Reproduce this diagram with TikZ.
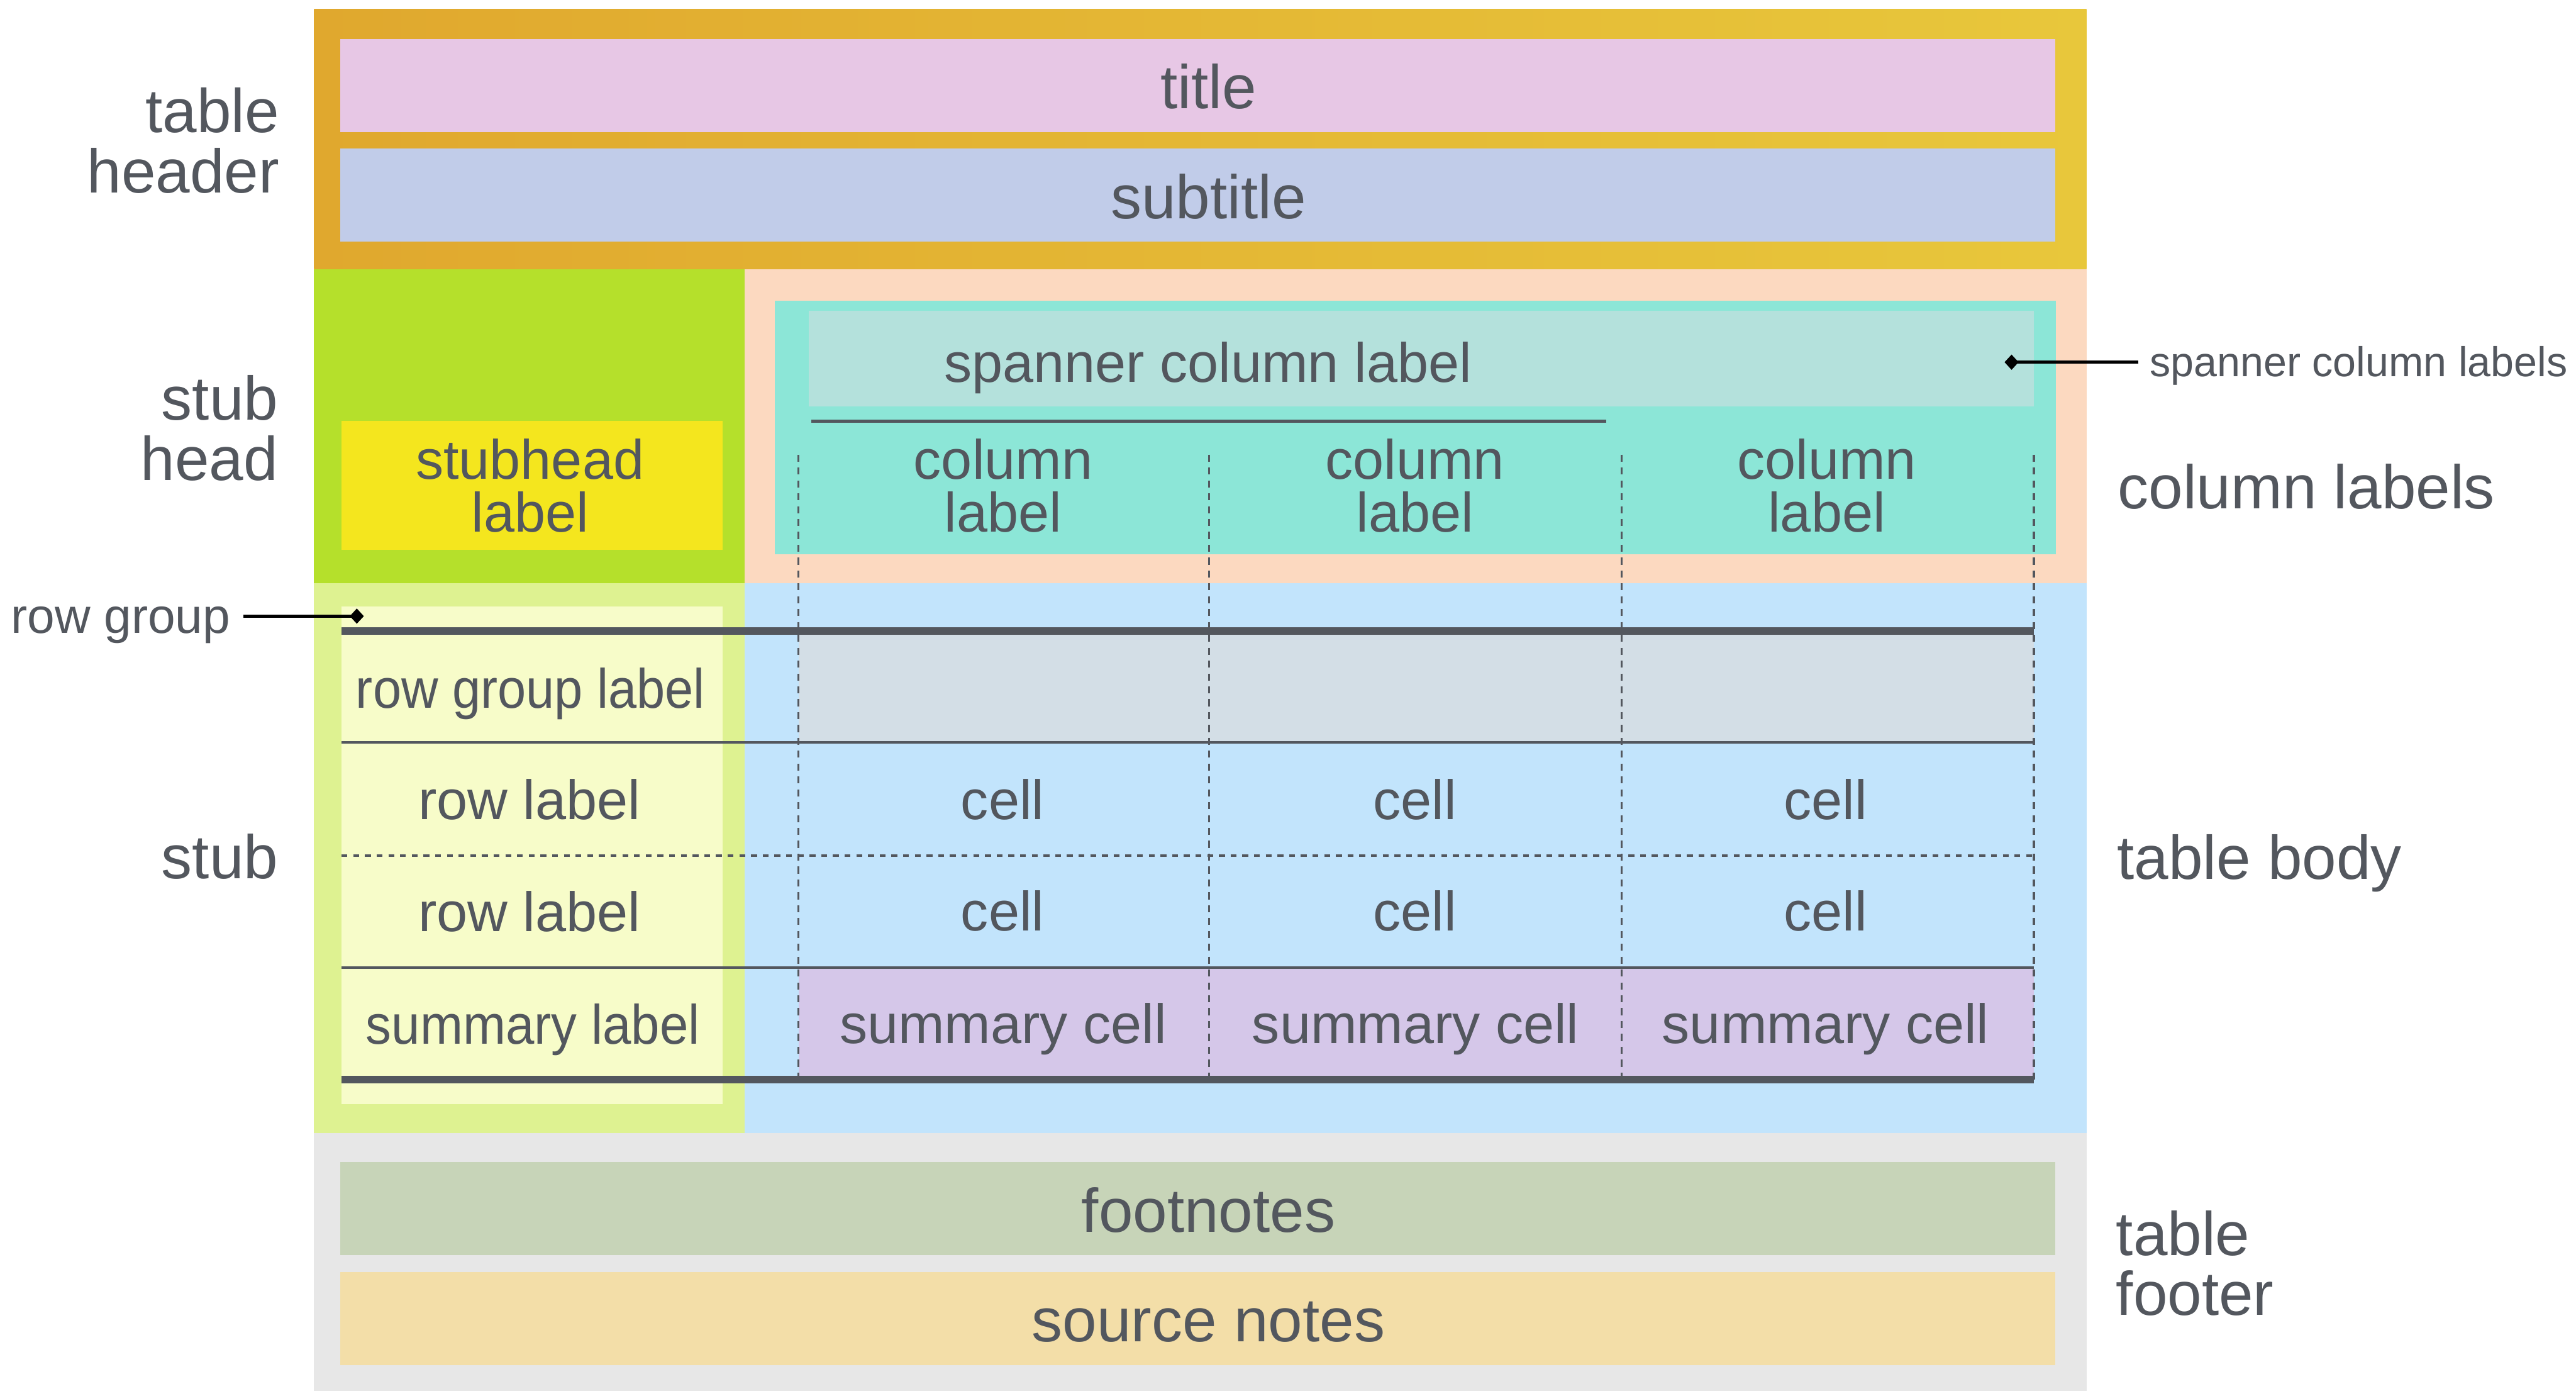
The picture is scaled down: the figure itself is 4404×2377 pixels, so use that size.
\documentclass[tikz,border=0pt]{standalone}
\usepackage{fontspec}
\setmainfont{Liberation Sans}
\usetikzlibrary{arrows.meta,calc}
\definecolor{ink}{HTML}{53575E}
\definecolor{hdrL}{HTML}{E0A82E}
\definecolor{hdrR}{HTML}{E8C73B}
\definecolor{titlec}{HTML}{E7C7E5}
\definecolor{subtitlec}{HTML}{C1CCE9}
\definecolor{stubheadc}{HTML}{B5E02B}
\definecolor{stubheadlab}{HTML}{F4E61E}
\definecolor{collabc}{HTML}{FCD9C0}
\definecolor{tealc}{HTML}{8CE6D7}
\definecolor{spannerc}{HTML}{B4E1DC}
\definecolor{stubc}{HTML}{DEF291}
\definecolor{stubinner}{HTML}{F7FCC9}
\definecolor{bodyc}{HTML}{C2E4FC}
\definecolor{rgband}{HTML}{D3DEE6}
\definecolor{summaryc}{HTML}{D5C7E9}
\definecolor{footerc}{HTML}{E7E7E7}
\definecolor{footnotec}{HTML}{C7D4B8}
\definecolor{sourcec}{HTML}{F3DEA8}
\begin{document}
\begin{tikzpicture}[x=0.1mm,y=-0.1mm,
  big/.style={font=\fontsize{30}{29.3}\selectfont, text=ink, inner sep=0pt},
  med/.style={font=\fontsize{27}{25.9}\selectfont, text=ink, inner sep=0pt},
  rgfont/.style={font=\fontsize{24}{24}\selectfont, text=ink, inner sep=0pt},
  spfont/.style={font=\fontsize{20.3}{20.3}\selectfont, text=ink, inner sep=0pt},
  rulethick/.style={draw=ink, line width=1.3mm},
  rulethin/.style={draw=ink, line width=0.45mm},
  ruledot/.style={draw=ink, line width=0.45mm, dash pattern=on 1mm off 1mm},
  vdash/.style={draw=ink, line width=0.35mm, dash pattern=on 1.2mm off 1mm},
  annot/.style={draw=black, line width=0.5mm, -{Diamond[length=2.4mm,width=2.6mm]}},
]
\useasboundingbox (0,0) rectangle (4404,2377);

% header
\shade[left color=hdrL, right color=hdrR] (537,16) rectangle (3567,460);
\fill[titlec] (582,67) rectangle (3514,226);
\fill[subtitlec] (582,254) rectangle (3514,413);

% stub head and column labels
\fill[stubheadc] (537,460) rectangle (1273,997);
\fill[stubheadlab] (584,719) rectangle (1235,940);
\fill[collabc] (1273,460) rectangle (3567,997);
\fill[tealc] (1325,514) rectangle (3515,947);
\fill[spannerc] (1383,531) rectangle (3477,695);
\draw[draw=ink, line width=0.5mm] (1387,720) -- (2746,720);

% body
\fill[stubc] (537,997) rectangle (1273,1936);
\fill[stubinner] (584,1037) rectangle (1235,1887);
\fill[bodyc] (1273,997) rectangle (3567,1936);
\fill[rgband] (1365,1078) rectangle (3477,1269);
\fill[summaryc] (1365,1654) rectangle (3477,1845);

% footer
\fill[footerc] (537,1936) rectangle (3567,2377);
\fill[footnotec] (582,1986) rectangle (3514,2145);
\fill[sourcec] (582,2174) rectangle (3514,2333);

% rules
\draw[rulethin] (584,1269) -- (3477,1269);
\draw[ruledot] (584,1462) -- (3477,1462);
\draw[rulethin] (584,1654) -- (3477,1654);
\foreach \xx in {1365,2067,2772,3477} {
  \draw[vdash] (\xx,777) -- (\xx,1845);
}
\draw[rulethick] (584,1078.5) -- (3477,1078.5);
\draw[rulethick] (584,1845) -- (3477,1845);

% side labels
\node[big, align=right, anchor=east] (lblheader) at (478,240) {table\\header};
\node[big, align=right, anchor=east] (lblstubhead) at (476,732) {stub\\head};
\node[big, anchor=base east] (lblstub) at (476,1502) {stub};
\node[big, anchor=base west] (lblcollabels) at (3620,869) {column labels};
\node[big, anchor=base west] (lblbody) at (3619,1503) {table body};
\node[big, align=left, anchor=west] (lblfooter) at (3617,2159) {table\\footer};

% header texts
\node[big, anchor=base] (title) at (2066,186) {title};
\node[big, anchor=base] (subtitle) at (2066,374) {subtitle};

% column label texts
\node[med, align=center] (stubheadlabel) at (906,830) {stubhead\\label};
\node[med, anchor=base] (spanner) at (2065,653) {spanner column label};
\node[med, align=center] (col1) at (1715,830) {column\\label};
\node[med, align=center] (col2) at (2419,830) {column\\label};
\node[med, align=center] (col3) at (3123,830) {column\\label};

% stub texts
\node[med, anchor=base] (rglabel) at (907,1210) {\scalebox{0.92}[1]{row group label}};
\node[med, anchor=base] (rowlab1) at (905,1400) {row label};
\node[med, anchor=base] (rowlab2) at (905,1592) {row label};
\node[med, anchor=base] (sumlabel) at (911,1784) {\scalebox{0.925}[1]{summary label}};

% cells
\node[med, anchor=base] (c11) at (1714,1400) {cell};
\node[med, anchor=base] (c12) at (2419,1400) {cell};
\node[med, anchor=base] (c13) at (3121,1400) {cell};
\node[med, anchor=base] (c21) at (1714,1591) {cell};
\node[med, anchor=base] (c22) at (2419,1591) {cell};
\node[med, anchor=base] (c23) at (3121,1591) {cell};
\node[med, anchor=base] (s1) at (1715,1783) {summary cell};
\node[med, anchor=base] (s2) at (2420,1783) {summary cell};
\node[med, anchor=base] (s3) at (3121,1783) {summary cell};

% footer texts
\node[big, anchor=base] (footnotes) at (2066,2106) {footnotes};
\node[big, anchor=base] (sourcenotes) at (2066,2293) {source notes};

% annotations
\node[rgfont, anchor=base west] (rgtext) at (18,1082) {row group};
\coordinate (rgtip) at (622,1053);
\draw[annot] ($(rgtext.east |- rgtip)+(22,0)$) -- (rgtip);

\node[spfont, anchor=base west] (sptext) at (3675,643) {spanner column labels};
\coordinate (sptip) at (3427,619);
\draw[annot] ($(sptext.west |- sptip)+(-19,0)$) -- (sptip);
\end{tikzpicture}
\end{document}
